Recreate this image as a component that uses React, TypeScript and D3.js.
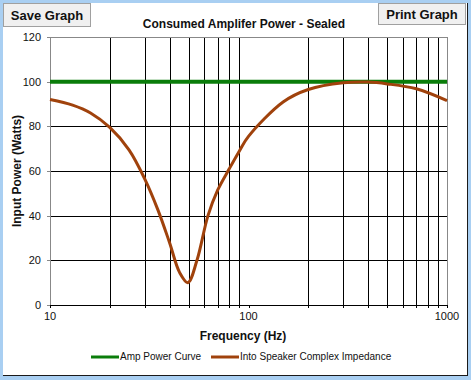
import React from "react";
import * as d3 from "d3";

const freqs = [10, 13, 16, 20, 25, 30, 35, 40, 45, 49.5, 55, 62.5, 70, 80, 90, 100, 150, 200, 300, 400, 500, 700, 1000];
const impedancePower = [92, 89.5, 86, 79.5, 69.5, 56.5, 42.5, 28, 14.5, 10, 20, 40, 51.5, 61, 69, 75.5, 91, 96.5, 99.5, 99.8, 99, 96.8, 91.5];
const ampFreqs = [10, 1000];
const ampPower = [100, 100];
const yTicks = [0, 20, 40, 60, 80, 100, 120];
const xLabels = [10, 100, 1000];

const W = 471, H = 380;
const PL = 50, PR = 447, PT = 37, PB = 305;
const FONT = "'Liberation Sans', Arial, sans-serif";

export default function App() {
  const x = d3.scaleLog().domain([10, 1000]).range([PL, PR]);
  const y = d3.scaleLinear().domain([0, 120]).range([PB, PT]);
  const gridX: number[] = [];
  for (const dec of [10, 100]) for (let m = 2; m <= 9; m++) gridX.push(dec * m);
  const line = d3.line<[number, number]>().x(d => x(d[0])).y(d => y(d[1])).curve(d3.curveCatmullRom.alpha(0.5));
  const brown = line(freqs.map((f, i) => [f, impedancePower[i]] as [number, number]))!;
  const green = d3.line<[number, number]>().x(d => x(d[0])).y(d => y(d[1]))(ampFreqs.map((f, i) => [f, ampPower[i]] as [number, number]))!;
  return (
    <svg width={W} height={H} style={{ position: "absolute", left: 0, top: 0 }} fontFamily={FONT}>
      <rect x={0} y={0} width={W} height={H} fill="#a9cff2" />
      <rect x={3} y={3} width={464} height={373} fill="#ffffff" />
      <line x1={3} y1={375.5} x2={467} y2={375.5} stroke="#1a1a1a" strokeWidth={1} />
      <line x1={467.5} y1={3} x2={467.5} y2={376} stroke="#1a1a1a" strokeWidth={1} />
      {/* buttons */}
      <rect x={3.5} y={3.5} width={87} height={23} fill="#f0f0f0" stroke="#a0a0a0" />
      <text x={47} y={20} textAnchor="middle" fontSize={13} fontWeight="bold" fill="#111">Save Graph</text>
      <rect x={378.5} y={3.5} width={87} height={21} fill="#f0f0f0" stroke="#a0a0a0" />
      <text x={422} y={19} textAnchor="middle" fontSize={13} fontWeight="bold" fill="#111">Print Graph</text>
      <text x={244} y={28} textAnchor="middle" fontSize={12} fontWeight="bold" fill="#111">Consumed Amplifer Power - Sealed</text>
      {/* grid */}
      {gridX.map(g => (
        <line key={"gx" + g} x1={Math.round(x(g)) + 0.5} x2={Math.round(x(g)) + 0.5} y1={PT} y2={PB + 3} stroke="#000" strokeWidth={1} />
      ))}
      {[10, 100, 1000].map(g => (
        <line key={"mx" + g} x1={Math.round(x(g)) + 0.5} x2={Math.round(x(g)) + 0.5} y1={PB} y2={PB + 3} stroke="#000" />
      ))}
      {yTicks.filter(t => t > 0 && t < 120).map(t => (
        <line key={"gy" + t} x1={PL} x2={PR} y1={Math.round(y(t)) + 0.5} y2={Math.round(y(t)) + 0.5} stroke="#000" strokeWidth={1} />
      ))}
      <line x1={PL + 0.5} x2={PR + 0.5} y1={PT + 0.5} y2={PT + 0.5} stroke="#888" />
      <line x1={PR + 0.5} x2={PR + 0.5} y1={PT} y2={PB} stroke="#888" />
      <line x1={PL + 0.5} x2={PL + 0.5} y1={PT} y2={PB} stroke="#888" />
      <line x1={PL} x2={PR + 1} y1={PB + 0.5} y2={PB + 0.5} stroke="#000" />
      {yTicks.map(t => (
        <g key={"yt" + t}>
          <line x1={PL - 3} x2={PL} y1={Math.round(y(t)) + 0.5} y2={Math.round(y(t)) + 0.5} stroke="#888" />
          <text x={41} y={y(t) + 4} textAnchor="end" fontSize={11} fill="#111">{t}</text>
        </g>
      ))}
      {xLabels.map(t => (
        <text key={"xl" + t} x={x(t)} y={320} textAnchor="middle" fontSize={11} fill="#111">{t}</text>
      ))}
      {/* series */}
      <path d={green} fill="none" stroke="#0a7d0a" strokeWidth={4} />
      <path d={brown} fill="none" stroke="#a0420c" strokeWidth={3} />
      {/* axis titles */}
      <text x={243} y={340} textAnchor="middle" fontSize={12} fontWeight="bold" fill="#111">Frequency (Hz)</text>
      <text transform="translate(21,171) rotate(-90)" textAnchor="middle" fontSize={12} fontWeight="bold" fill="#111">Input Power (Watts)</text>
      {/* legend */}
      <line x1={91} x2={119} y1={357} y2={357} stroke="#0a7d0a" strokeWidth={3} />
      <text x={120} y={360} fontSize={10} fill="#111">Amp Power Curve</text>
      <line x1={211} x2={239} y1={357} y2={357} stroke="#a0420c" strokeWidth={3} />
      <text x={240} y={360} fontSize={10} fill="#111">Into Speaker Complex Impedance</text>
    </svg>
  );
}
